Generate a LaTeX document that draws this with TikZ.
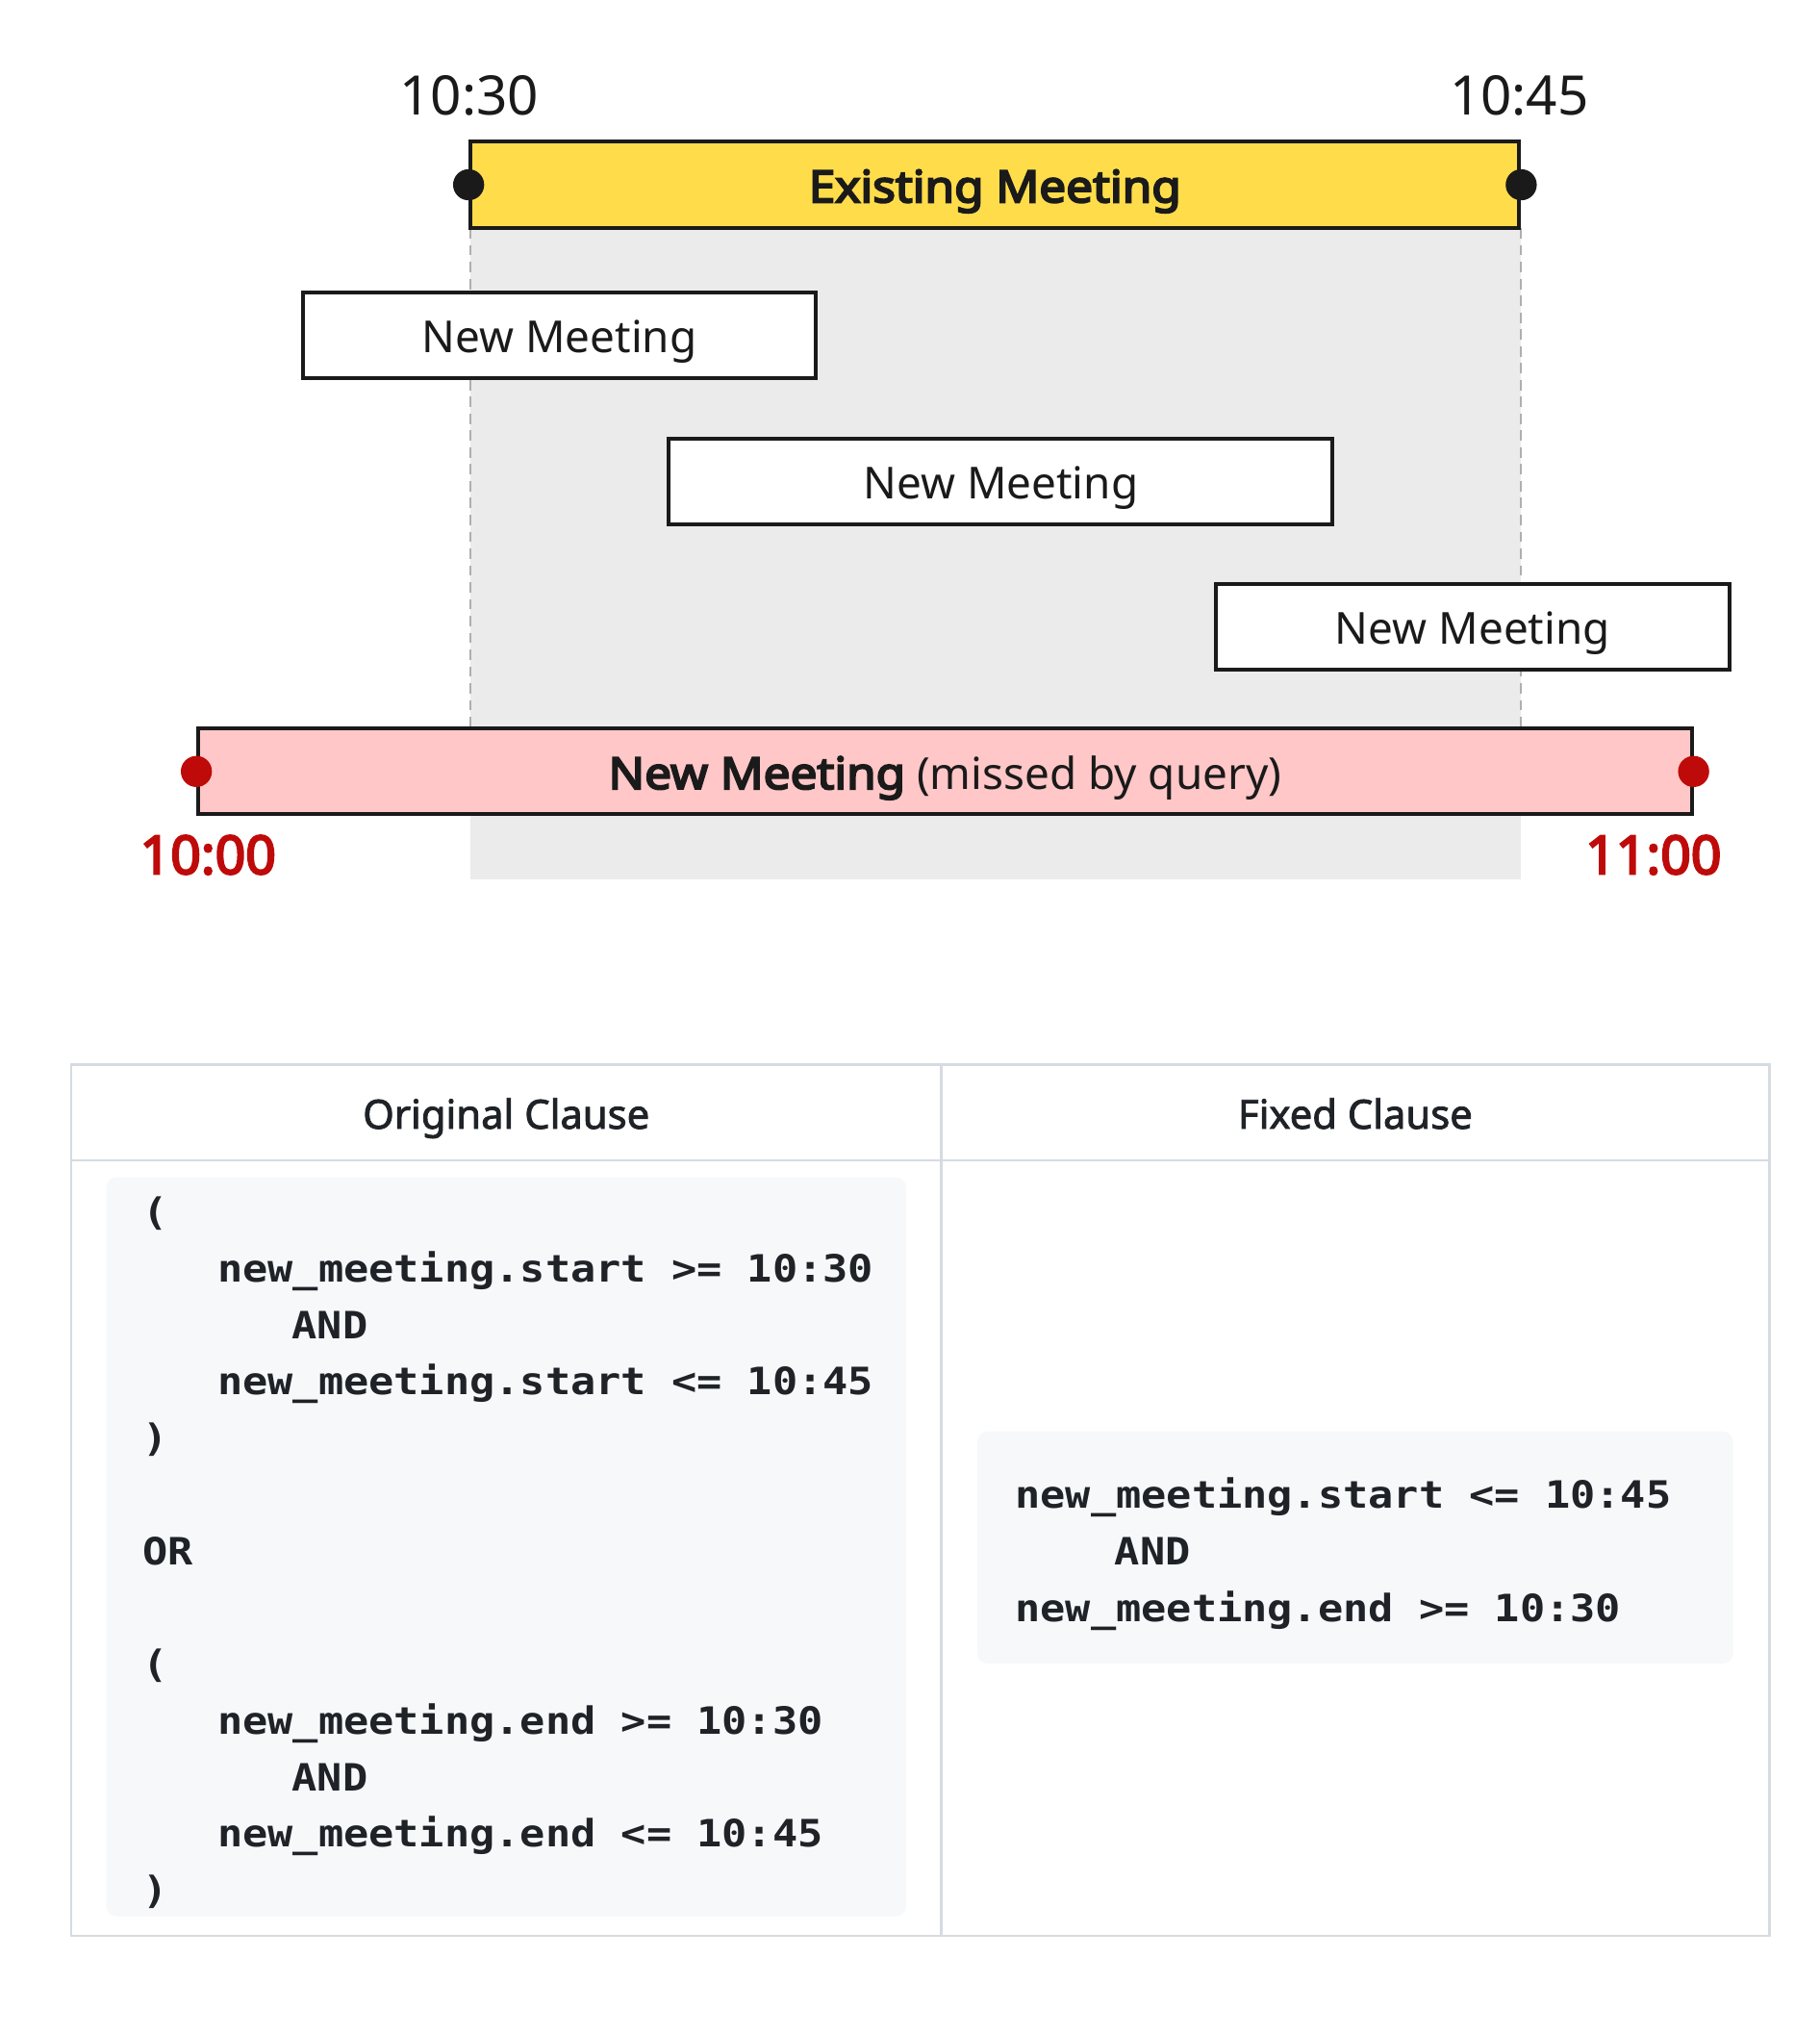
\documentclass[tikz,border=0pt]{standalone}
\usepackage{fontspec}
\setmainfont{Noto Sans}
\newfontfamily\nsbold{Noto Sans}[FakeBold=4]
\newfontfamily\nsboldw{Noto Sans}[FakeBold=4.5,FakeStretch=1.08]
\newfontfamily\codefont{DejaVu Sans Mono}[FakeStretch=1.115]
\newfontfamily\hdrfont{Noto Sans}[FakeBold=2]
\definecolor{ink}{HTML}{1A1A1A}
\definecolor{yel}{HTML}{FFDD4A}
\definecolor{pinkc}{HTML}{FFC7C7}
\definecolor{redc}{HTML}{BF0A0A}
\definecolor{shadegray}{HTML}{EBEBEB}
\definecolor{dashc}{HTML}{AFAFAF}
\definecolor{tblline}{HTML}{D5DBE1}
\definecolor{codebg}{HTML}{F6F8FA}
\definecolor{tblink}{HTML}{1F2328}
\tikzset{
  bar/.style={draw=ink, line width=3pt, inner sep=0pt, text height=27pt, text depth=0pt,
    font=\fontsize{34}{40}\selectfont, text=ink},
  dotb/.style={circle, fill=ink, inner sep=0pt, minimum size=24pt},
  dotr/.style={circle, fill=redc, inner sep=0pt, minimum size=24pt},
  tlabel/.style={anchor=base, inner sep=0pt, font=\fontsize{42}{50}\selectfont, text=ink},
  rlabel/.style={anchor=base, inner sep=0pt, font=\nsbold\fontsize{41}{50}\selectfont, text=redc},
  hdr/.style={anchor=base, inner sep=0pt, font=\hdrfont\fontsize{31}{38}\selectfont, text=tblink},
  codeln/.style={anchor=base west, inner sep=0pt, font=\codefont\bfseries\fontsize{29}{36}\selectfont, text=tblink},
  codebox/.style={fill=codebg, rounded corners=8pt},
  guide/.style={draw=dashc, line width=1.5pt, dash pattern=on 8pt off 5pt},
}
\begin{document}
\begin{tikzpicture}[x=1pt,y=-1pt]
\useasboundingbox[fill=white] (0,0) rectangle (1404,1568);

% shaded overlap window
\fill[shadegray] (363,176) rectangle (1173,678);
\coordinate (g1t) at (363,176);
\coordinate (g1b) at (363,561);
\coordinate (g2t) at (1173,176);
\coordinate (g2b) at (1173,561);
\draw[guide] (g1t) -- (g1b);
\draw[guide] (g2t) -- (g2b);

% time labels (top)
\node[tlabel] (t1030) at (362,88.5) {10:30};
\node[tlabel] (t1045) at (1172,88.5) {10:45};

% existing meeting
\node[bar, fill=yel, minimum width=809pt, minimum height=67pt,
  font=\nsboldw\fontsize{34}{40}\selectfont] (exist) at (767.5,142.5) {Existing Meeting};
\node[dotb] (e1) at (exist.west) {};
\node[dotb] (e2) at (exist.east) {};

% new meetings
\node[bar, fill=white, minimum width=395pt, minimum height=66pt] (nm1) at (431.5,258.5) {New Meeting};
\node[bar, fill=white, minimum width=512pt, minimum height=66pt] (nm2) at (772,371.5) {New Meeting};
\node[bar, fill=white, minimum width=396pt, minimum height=66pt] (nm3) at (1136,483.5) {New Meeting};

% missed meeting
\node[bar, fill=pinkc, minimum width=1152pt, minimum height=66pt] (miss) at (729,595)
  {{\nsboldw New Meeting} (missed by query)};
\node[dotr] (m1) at (miss.west) {};
\node[dotr] (m2) at (miss.east) {};

\node[rlabel] (t1000) at (160.5,674) {10:00};
\node[rlabel] (t1100) at (1275.5,674) {11:00};

% table
\draw[tblline, line width=2pt] (55,821) rectangle (1365,1493);
\coordinate (vt) at (726,821);
\coordinate (vb) at (726,1493);
\coordinate (hl) at (55,895);
\coordinate (hr) at (1365,895);
\draw[tblline, line width=2pt] (vt) -- (vb);
\draw[tblline, line width=2pt] (hl) -- (hr);

\node[hdr] (h1) at (390.5,870.5) {Original Clause};
\node[hdr] (h2) at (1045.5,870.5) {Fixed Clause};

\fill[codebox] (82,908) rectangle (699,1478);
\fill[codebox] (754,1104) rectangle (1337,1283);

% left code
\node[codeln] (c0)  at (110,945)      {(};
\node[codeln] (c1)  at (167.6,988.7)  {new\_meeting.start >= 10:30};
\node[codeln] (c2)  at (225.2,1032.3) {AND};
\node[codeln] (c3)  at (167.6,1075.9) {new\_meeting.start <= 10:45};
\node[codeln] (c4)  at (110,1119.5)   {)};
\node[codeln] (c6)  at (110,1206.7)   {OR};
\node[codeln] (c8)  at (110,1293.9)   {(};
\node[codeln] (c9)  at (167.6,1337.5) {new\_meeting.end >= 10:30};
\node[codeln] (c10) at (225.2,1381.1) {AND};
\node[codeln] (c11) at (167.6,1424.7) {new\_meeting.end <= 10:45};
\node[codeln] (c12) at (110,1468.3)   {)};

% right code
\node[codeln] (r1) at (783,1163.5)  {new\_meeting.start <= 10:45};
\node[codeln] (r2) at (859.8,1207.1) {AND};
\node[codeln] (r3) at (783,1250.7)  {new\_meeting.end >= 10:30};
\end{tikzpicture}
\end{document}
